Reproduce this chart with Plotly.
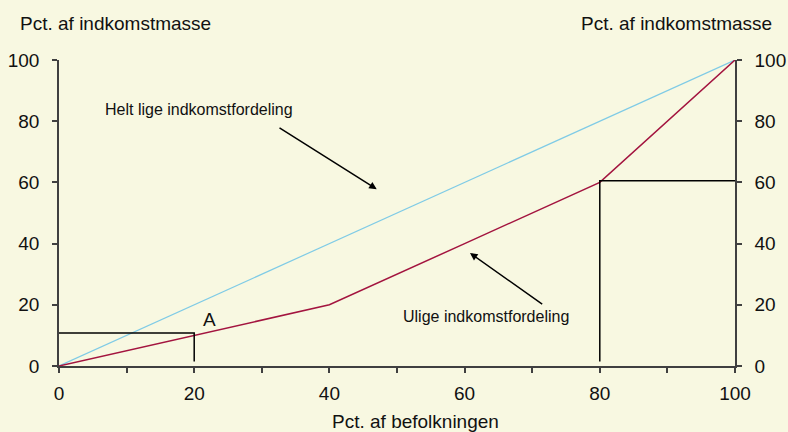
import plotly.graph_objects as go

# Data
pop_share = [0, 20, 40, 60, 80, 100]
income_equal = [0, 20, 40, 60, 80, 100]
income_unequal = [0, 10, 20, 40, 60, 100]

guide_a_x = [0, 20, 20]
guide_a_y = [10.8, 10.8, 1.5]
guide_b_x = [80, 80, 100]
guide_b_y = [1.5, 60.5, 60.5]

x_tickvals = [0, 10, 20, 30, 40, 50, 60, 70, 80, 90, 100]
x_ticktext = ["0", "", "20", "", "40", "", "60", "", "80", "", "100"]
y_tickvals = [0, 20, 40, 60, 80, 100]
y_ticktext = ["0", "20", "40", "60", "80", "100"]

label_equal = "Helt lige indkomstfordeling"
label_unequal = "Ulige indkomstfordeling"
y_title = "Pct. af indkomstmasse"
x_title = "Pct. af befolkningen"

BG = "#F8F8E1"
AXIS = "#404040"
FONT = "Liberation Sans, Arial, sans-serif"
TXT = "#111111"

W, H = 788, 432
ML, MR, MT, MB = 59, 53, 60, 66
PW, PH = W - ML - MR, H - MT - MB

fig = go.Figure()
fig.add_trace(go.Scatter(x=pop_share, y=income_equal, mode="lines",
                         line=dict(color="#7FCBE6", width=1.2), hoverinfo="skip"))
fig.add_trace(go.Scatter(x=pop_share, y=income_unequal, mode="lines",
                         line=dict(color="#A3143F", width=1.5), hoverinfo="skip"))
fig.add_trace(go.Scatter(x=guide_a_x, y=guide_a_y, mode="lines",
                         line=dict(color="#000000", width=1.5), hoverinfo="skip"))
fig.add_trace(go.Scatter(x=guide_b_x, y=guide_b_y, mode="lines",
                         line=dict(color="#000000", width=1.5), hoverinfo="skip"))
# invisible trace to anchor right axis
fig.add_trace(go.Scatter(x=[0, 100], y=[0, 100], yaxis="y2", mode="lines",
                         line=dict(width=0), opacity=0, hoverinfo="skip"))

axis_common = dict(showgrid=False, zeroline=False, showline=True, linecolor=AXIS,
                   linewidth=1.5, ticks="outside", ticklen=5, tickcolor=AXIS,
                   tickwidth=1.5, automargin=False,
                   tickfont=dict(family=FONT, size=19, color=TXT))

fig.update_layout(
    width=W, height=H, autosize=False,
    paper_bgcolor=BG, plot_bgcolor=BG,
    showlegend=False,
    margin=dict(l=ML, r=MR, t=MT, b=MB, autoexpand=False),
    font=dict(family=FONT, color=TXT),
    xaxis=dict(range=[0, 100], tickmode="array", tickvals=x_tickvals, ticktext=x_ticktext,
               ticklabelstandoff=4, **axis_common),
    yaxis=dict(range=[0, 100], tickmode="array", tickvals=y_tickvals, ticktext=y_ticktext,
               ticklabelstandoff=9, **axis_common),
    yaxis2=dict(range=[0, 100], tickmode="array", tickvals=y_tickvals, ticktext=y_ticktext,
                overlaying="y", side="right", ticklabelstandoff=9, **axis_common),
)

annotations = [
    dict(text=y_title, xref="paper", yref="paper", x=(18 - ML) / PW, y=1 + 36 / PH,
         xanchor="left", yanchor="middle", showarrow=False,
         font=dict(family=FONT, size=19, color=TXT)),
    dict(text=y_title, xref="paper", yref="paper", x=(774 - ML) / PW, y=1 + 36 / PH,
         xanchor="right", yanchor="middle", showarrow=False,
         font=dict(family=FONT, size=19, color=TXT)),
    dict(text=x_title, xref="paper", yref="paper", x=(415 - ML) / PW, y=-(421 - MT - PH) / PH,
         xanchor="center", yanchor="middle", showarrow=False,
         font=dict(family=FONT, size=19, color=TXT)),
    dict(text=label_equal, x=20.7, y=83.7, xref="x", yref="y", showarrow=False,
         font=dict(family=FONT, size=16, color=TXT)),
    dict(text=label_unequal, x=63.2, y=16.3, xref="x", yref="y", showarrow=False,
         font=dict(family=FONT, size=16, color=TXT)),
    dict(text="A", x=22.3, y=15.2, xref="x", yref="y", showarrow=False,
         font=dict(family=FONT, size=19, color=TXT)),
    dict(text="", x=47.0, y=57.8, ax=32.4, ay=78.1, xref="x", yref="y",
         axref="x", ayref="y", showarrow=True, arrowhead=2, arrowsize=1,
         arrowwidth=1.5, arrowcolor="#000000"),
    dict(text="", x=60.8, y=36.9, ax=71.7, ay=19.9, xref="x", yref="y",
         axref="x", ayref="y", showarrow=True, arrowhead=2, arrowsize=1,
         arrowwidth=1.5, arrowcolor="#000000"),
]
fig.update_layout(annotations=annotations)

fig.write_html(
    "out.html",
    config=dict(displayModeBar=False, responsive=False),
    post_script=(
        "document.body.style.margin='0';"
        "document.body.style.overflow='hidden';"
        "document.body.style.background='" + BG + "';"
    ),
)
